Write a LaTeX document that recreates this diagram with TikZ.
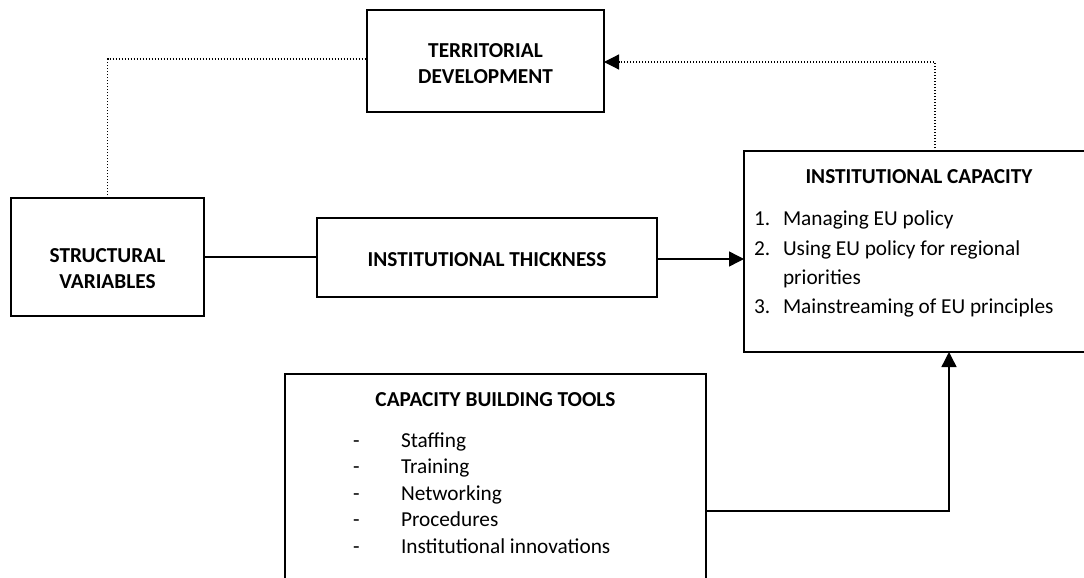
\documentclass[tikz,border=0pt]{standalone}
\usepackage{fontspec}
\setmainfont{Carlito}
\usetikzlibrary{arrows.meta}
\begin{document}
\begin{tikzpicture}[x=1pt,y=-1pt,
  every node/.style={inner sep=0pt, outer sep=0pt},
  box/.style={draw, line width=1.8pt},
  title/.style={font=\fontsize{21.3}{26}\selectfont\bfseries, anchor=base},
  item/.style={font=\fontsize{21.3}{26}\selectfont, anchor=base west},
  link/.style={line width=1.4pt},
  dotlink/.style={line width=1.2pt, dash pattern=on 1.1pt off 1.9pt},
  tip/.style={-{Triangle[length=15pt,width=15pt]}}]
\useasboundingbox (0,0) rectangle (1084,578);
\clip (0,0) rectangle (1084,578);

% boxes
\node[box, minimum width=237pt, minimum height=102pt] (td) at (485.5,61) {};
\node[box, minimum width=193pt, minimum height=118pt] (sv) at (107.5,257) {};
\node[box, minimum width=340pt, minimum height=79pt] (it) at (487,257.5) {};
\node[box, minimum width=350pt, minimum height=201pt] (ic) at (919,251.5) {};
\node[box, minimum width=421pt, minimum height=240pt] (cbt) at (495.5,494) {};

% box texts
\node[title] (tdA) at (485.5,58) {TERRITORIAL};
\node[title] (tdB) at (485.5,84) {DEVELOPMENT};
\node[title] (svA) at (107.5,262) {STRUCTURAL};
\node[title] (svB) at (107.5,288) {VARIABLES};
\node[title] (itA) at (487,266) {INSTITUTIONAL THICKNESS};

\node[title] (icT) at (919,183) {INSTITUTIONAL CAPACITY};
\node[item] (ic1n) at (754,225) {1.};
\node[item] (ic1) at (783,225) {Managing EU policy};
\node[item] (ic2n) at (754,255) {2.};
\node[item] (ic2) at (783,255) {Using EU policy for regional};
\node[item] (ic2b) at (783,284) {priorities};
\node[item] (ic3n) at (754,313) {3.};
\node[item] (ic3) at (783,313) {Mainstreaming of EU principles};

\node[title] (cbtT) at (495.5,406) {CAPACITY BUILDING TOOLS};
\foreach \y/\t/\n in {447/Staffing/a, 473.5/Training/b, 500/Networking/c,
                      526.5/Procedures/d, 553/Institutional innovations/e} {
  \node[item] (dash\n) at (353,\y) {-};
  \node[item] (tool\n) at (401,\y) {\t};
}

% connectors
\draw[dotlink] (sv.north) |- ([yshift=2pt]td.west);
\draw[dotlink, tip] ([xshift=16pt]ic.north) |- ([yshift=-1pt]td.east);
\draw[link] (sv.east) -- (sv.east -| it.west);
\draw[link, tip] ([yshift=-1.5pt]it.east) -- ([yshift=-1.5pt]it.east -| ic.west);
\draw[link, tip] ([yshift=-17pt]cbt.east) -| ([xshift=30pt]ic.south);
\end{tikzpicture}
\end{document}
